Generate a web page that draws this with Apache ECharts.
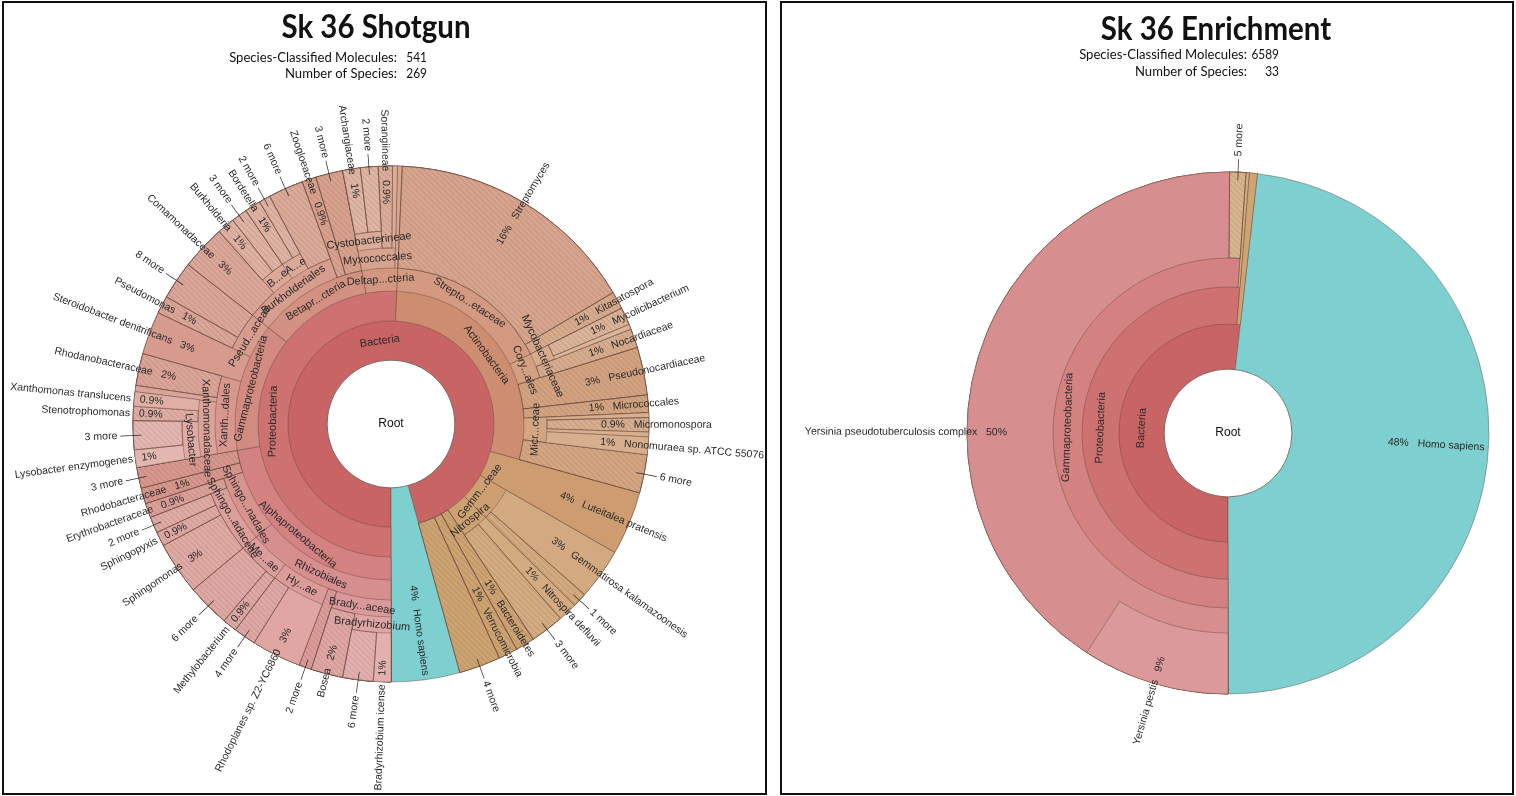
<!DOCTYPE html>
<html>
<head>
<meta charset="utf-8">
<script src="https://cdn.jsdelivr.net/npm/echarts@6/dist/echarts.min.js"></script>
<style>
html,body{margin:0;padding:0;background:#fff;}
#chart{width:1516px;height:796px;}
</style>
</head>
<body>
<div id="chart"></div>
<script>
// ================= DATA (shares of species-classified molecules, %) =================
// node format: [name, value]  |  [name, [children]]  |  [name, ownTotal, [children]]
const shotgunTitle = 'Sk 36 Shotgun';
const enrichTitle = 'Sk 36 Enrichment';
const statLabels = ['Species-Classified Molecules:', 'Number of Species:'];
const shotgunStats = ['541', '269'];
const enrichStats = ['6589', '33'];
const rootName = 'Root';

const shotgunAlphaproteobacteria = [
  ['Rhizobiales', [
    ['Brady...aceae', [
      ['Bradyrhizobium', [['Bradyrhizobium icense', 1.1], ['6 more', 1.9]]],
      ['Bosea', 2.0]
    ]],
    ['2 more', 0.8],
    ['Hy...ae', [['Rhodoplanes sp. Z2-YC6860', 3.1], ['4 more', 1.4]]],
    ['Me...ae', [['Methylobacterium', 0.9], ['6 more', 2.7]]]
  ]],
  ['Sphingo...nadales', [
    ['Sphingo...adaceae', [['Sphingomonas', 3.3], ['Sphingopyxis', 0.9], ['2 more', 1.0]]],
    ['Erythrobacteraceae', 0.9]
  ]],
  ['Rhodobacteraceae', 1.0],
  ['3 more', 1.3]
];
const shotgunGammaproteobacteria = [
  ['Xanth...dales', [
    ['Xanthomonadaceae', [
      ['Lysobacter', [['Lysobacter enzymogenes', 1.1], ['3 more', 1.8]]],
      ['Stenotrophomonas', 0.9],
      ['Xanthomonas translucens', 0.9]
    ]],
    ['', 0.4],
    ['Rhodanobacteraceae', 2.0]
  ]],
  ['Steroidobacter denitrificans', 2.7],
  ['Pseud...aceae', [['Pseudomonas', 1.1], ['8 more', 2.4]]]
];
const shotgunBetaproteobacteria = [
  ['Burkholderiales', [
    ['Comamonadaceae', 2.8],
    ['B...e', [['Burkholderia', 1.1], ['3 more', 1.0]]],
    ['A...e', [['Bordetella', 1.0], ['2 more', 0.7]]],
    ['6 more', 2.2]
  ]],
  ['Zoogloeaceae', 0.9],
  ['3 more', 1.7]
];
const shotgunDeltaproteobacteria = [
  ['Myxococcales', [
    ['Cystobacterineae', [['Archangiaceae', 1.1], ['2 more', 1.1]]],
    ['Sorangiineae', 0.9],
    ['', 0.3]
  ]],
  ['', 0.3]
];
const shotgunActinobacteria = [
  ['Strepto...etaceae', [['Streptomyces', 15.8], ['Kitasatospora', 1.1]]],
  ['Cory...ales', [
    ['Mycobacteriaceae', [['Mycolicibacterium', 1.1], ['', 0.3]]],
    ['Nocardiaceae', 1.2]
  ]],
  ['Pseudonocardiaceae', 3.0],
  ['Micrococcales', 1.1],
  ['Micr...ceae', [['', 0.3], ['Micromonospora', 0.9], ['', 0.3], ['Nonomuraea sp. ATCC 55076', 1.1]]],
  ['6 more', 2.4]
];
const shotgunOtherPhyla = [
  ['Luteitalea pratensis', 4.0],
  ['Gemm...ceae', [['Gemmatirosa kalamazoonesis', 3.2], ['1 more', 0.9]]],
  ['Nitrospira', [['Nitrospira defluvii', 1.2], ['3 more', 2.1]]],
  ['Bacteroidetes', 1.2],
  ['Verrucomicrobia', 1.2],
  ['4 more', 2.6]
];
const shotgunHomoSapiens = 4.3;

const enrichGammaproteobacteria = [
  ['Yersinia pseudotuberculosis complex', 50.1, [['Yersinia pestis', 9.1]]],
  ['5 more', 1.0]
];
const enrichOtherProteobacteria = 0.2;
const enrichOtherPhyla = 0.5;
const enrichHomoSapiens = 48.2;

// ================= assemble trees =================
const shotgunTree = [
  ['Bacteria', [
    ['Proteobacteria', [
      ['Alphaproteobacteria', shotgunAlphaproteobacteria],
      ['Gammaproteobacteria', shotgunGammaproteobacteria],
      ['Betapr...cteria', shotgunBetaproteobacteria],
      ['Deltap...cteria', shotgunDeltaproteobacteria]
    ]],
    ['Actinobacteria', shotgunActinobacteria]
  ].concat(shotgunOtherPhyla)],
  ['Homo sapiens', shotgunHomoSapiens]
];
const enrichTree = [
  ['Bacteria', [
    ['Proteobacteria', [
      ['Gammaproteobacteria', enrichGammaproteobacteria],
      ['', enrichOtherProteobacteria]
    ]],
    ['', enrichOtherPhyla]
  ]],
  ['Homo sapiens', enrichHomoSapiens]
];

// ================= styling / layout config =================
const FONT = "'Liberation Sans', Arial, sans-serif";
const HEAD = "Lato, 'Open Sans', sans-serif";
const LIGHT = [100, 100, 59, 62.5, 66.5, 70, 73, 76, 79];
const TEAL = '#7ecfcf';
const BORDER = 'rgba(95,65,55,0.5)';
const BW = 0.8;
const CLEAR = 'rgba(0,0,0,0)';
const HATCH = { symbol: 'rect', symbolSize: 1, dashArrayX: [1, 0], dashArrayY: [1, 3], rotation: Math.PI / 4, color: 'rgba(70,35,25,0.13)' };
const LEAF_FONT = 10.5;
// radial nudges (+1 = half a line outward, -1 = inward) for crowded inner labels
const labelNudge = { 'Gemm...ceae': -1, 'Nitrospira': 1 };

const shotgunCfg = { rings: [0, 64, 103, 133, 156, 176, 193, 209, 258], center: [391, 424], hueSpan: 34 };
const enrichCfg = { rings: [0, 64, 109, 146, 175, 200, 261], center: [1228, 433], hueSpan: 34 };

function toNode(e) {
  const n = { name: e[0] };
  if (Array.isArray(e[1])) n.children = e[1].map(toNode);
  else { n.value = e[1]; if (e[2]) n.children = e[2].map(toNode); }
  return n;
}
function total(n) {
  if (n.value != null) return n.value;
  return n.children.reduce((s, c) => s + total(c), 0);
}
function fmtPct(p) { return p < 1 ? p.toFixed(1) + '%' : Math.round(p) + '%'; }
function norm(a) { return ((a % 360) + 360) % 360; }
function isLeft(mid) { const m = norm(mid); return m > 180 && m < 360; }
function hsl(h, s, l) { return 'hsl(' + h.toFixed(1) + ',' + s + '%,' + l + '%)'; }

function leafLabel(name, pct, left, distance) {
  return { show: true, position: 'outside', rotate: 'radial', distance: distance, fontSize: LEAF_FONT,
           formatter: left ? name + '   ' + pct : pct + '   ' + name };
}
function moreLabel(name, left, distance) {
  return { show: true, position: 'outside', rotate: 'radial', distance: distance, fontSize: LEAF_FONT,
           formatter: left ? name + ' \u2014\u2014' : '\u2014\u2014 ' + name };
}
function innerLabel(name, mid) {
  const lab = { show: true, position: 'inside', rotate: 'tangential', align: 'center', formatter: name };
  const d = labelNudge[name];
  if (d) {
    const m = norm(mid);
    const outwardIsDown = !(m < 90 || m > 270);   // tangential text is flipped on the top half
    const pushDown = (d > 0) === outwardIsDown;
    lab.lineHeight = 13;
    lab.formatter = pushDown ? '\n' + name : name + '\n';
  }
  return lab;
}

// builds the (transparent) label sunburst item and records the drawn wedge per depth
function decorate(n, depth, startVal, cfg, hueFn) {
  const t = total(n);
  const start = 180 + startVal / cfg.total * 360;
  const span = t / cfg.total * 360;
  const mid = start + span / 2;
  if (depth === 2) {
    if (n.name === 'Homo sapiens') hueFn = null;
    else { const s0 = start, sp = span; hueFn = a => cfg.hueSpan * (a - s0) / sp; }
  }
  const color = hueFn ? hsl(hueFn(start), 48, LIGHT[depth]) : TEAL;
  const leaf = !n.children;
  const hatched = leaf && !!n.name && (/ more$/.test(n.name) || n.name.trim().split(/\s+/).length === 1);
  (cfg.segs[depth] = cfg.segs[depth] || []).push({ start: startVal, value: t, color: color, hatched: hatched });

  const item = { name: n.name || ' ', value: t, itemStyle: { color: CLEAR, borderWidth: 0 } };
  const outer = cfg.rings[cfg.rings.length - 1];
  const ringIn = cfg.rings[depth - 1], ringOut = cfg.rings[depth];
  const left = isLeft(mid);
  const pct = fmtPct(t / cfg.total * 100);
  const anchor = (ringIn + outer) / 2 + 3;
  if (!leaf) {
    let c = startVal, kids = 0;
    item.children = n.children.map(k => {
      const d = decorate(k, depth + 1, c, cfg, hueFn);
      c += total(k); kids += total(k);
      return d;
    });
    if (n.value != null && n.value - kids > 1e-6) {
      item.label = leafLabel(n.name, pct, left, anchor - ringOut);
    } else {
      item.label = n.name ? innerLabel(n.name, mid) : { show: false };
    }
  } else {
    if (!n.name) item.label = { show: false };
    else if (/ more$/.test(n.name)) item.label = moreLabel(n.name, left, outer - 8 - ringOut);
    else if (depth === 2) item.label = { show: true, position: 'inside', rotate: 'radial', align: 'right',
                                         distance: ringOut - (outer - 4), fontSize: LEAF_FONT,
                                         formatter: left ? n.name + '   ' + pct : pct + '   ' + n.name };
    else item.label = leafLabel(n.name, pct, left, anchor - ringOut);
  }
  return item;
}

function buildLabelData(tree, cfg) {
  const nodes = tree.map(toNode);
  cfg.total = nodes.reduce((s, n) => s + total(n), 0);
  cfg.segs = [];
  cfg.segs[1] = [{ start: 0, value: cfg.total, color: '#ffffff', root: true }];
  let cursor = 0;
  const root = { name: rootName, value: cfg.total, itemStyle: { color: CLEAR, borderWidth: 0 },
    label: { show: false }, children: [] };
  nodes.forEach(n => { root.children.push(decorate(n, 2, cursor, cfg, null)); cursor += total(n); });
  return [root];
}

function makeSeries(tree, cfg) {
  const labelData = buildLabelData(tree, cfg);
  const outer = cfg.rings[cfg.rings.length - 1];
  const list = [];
  // geometry: one pie per depth, each wedge running out to the rim; deeper depths drawn on top
  for (let d = 1; d < cfg.rings.length; d++) {
    const segs = cfg.segs[d] || [];
    const data = [];
    let cur = 0;
    const gap = v => ({ value: v, itemStyle: { color: CLEAR, borderWidth: 0 } });
    segs.forEach(s => {
      if (s.start - cur > 1e-9) data.push(gap(s.start - cur));
      const st = s.root
        ? { color: '#ffffff', borderColor: '#8a8a8a', borderWidth: 1 }
        : { color: s.color, borderColor: BORDER, borderWidth: BW };
      if (s.hatched) st.decal = HATCH;
      data.push({ value: s.value, itemStyle: st });
      cur = s.start + s.value;
    });
    if (cfg.total - cur > 1e-9) data.push(gap(cfg.total - cur));
    list.push({
      type: 'pie', z: 2 + d, center: cfg.center,
      radius: [cfg.rings[d - 1], d === 1 ? cfg.rings[1] : outer],
      startAngle: -90, clockwise: true, silent: true, avoidLabelOverlap: false,
      label: { show: false }, labelLine: { show: false }, emphasis: { disabled: true },
      data: data
    });
  }
  // labels
  const levels = [{}];
  for (let k = 1; k < cfg.rings.length; k++) levels.push({ r0: cfg.rings[k - 1], r: cfg.rings[k] });
  list.push({
    type: 'sunburst', z: 40, center: cfg.center, radius: [0, outer],
    startAngle: -90, clockwise: true, sort: null, nodeClick: false, silent: true,
    emphasis: { disabled: true },
    label: { fontFamily: FONT, fontSize: 11, color: '#2a2a2a' },
    itemStyle: { color: CLEAR, borderWidth: 0 },
    levels: levels,
    data: labelData
  });
  return list;
}

function headText(x, y, text, font, align, sx) {
  return { type: 'text', x: x, y: y, scaleX: sx, silent: true, z: 100,
    style: { text: text, font: font, fill: '#111', textAlign: align, textVerticalAlign: 'middle', align: align, verticalAlign: 'middle' } };
}
function statTexts(labelRight, valueRight, ys, values) {
  const out = [];
  ys.forEach((y, i) => {
    out.push(headText(labelRight, y, statLabels[i], '13.5px ' + HEAD, 'right', 0.97));
    out.push(headText(valueRight, y, values[i], '13.5px ' + HEAD, 'right', 0.88));
  });
  return out;
}

const chart = echarts.init(document.getElementById('chart'), null, { renderer: 'canvas' });
const option = {
  animation: false,
  backgroundColor: '#ffffff',
  graphic: [
    { type: 'rect', silent: true, shape: { x: 3, y: 2, width: 763, height: 792 }, style: { fill: 'none', stroke: '#111', lineWidth: 2 } },
    { type: 'rect', silent: true, shape: { x: 781, y: 2, width: 732, height: 792 }, style: { fill: 'none', stroke: '#111', lineWidth: 2 } },
    headText(376, 28, shotgunTitle, 'bold 32px ' + HEAD, 'center', 0.92),
    headText(1216, 30, enrichTitle, 'bold 32px ' + HEAD, 'center', 0.92),
    headText(shotgunCfg.center[0], shotgunCfg.center[1], rootName, '12px ' + FONT, 'center', 1),
    headText(enrichCfg.center[0], enrichCfg.center[1], rootName, '12px ' + FONT, 'center', 1)
  ].concat(statTexts(397, 427, [58, 74], shotgunStats))
   .concat(statTexts(1247, 1279, [55, 72], enrichStats)),
  series: makeSeries(shotgunTree, shotgunCfg).concat(makeSeries(enrichTree, enrichCfg))
};
chart.setOption(option);
</script>
</body>
</html>
